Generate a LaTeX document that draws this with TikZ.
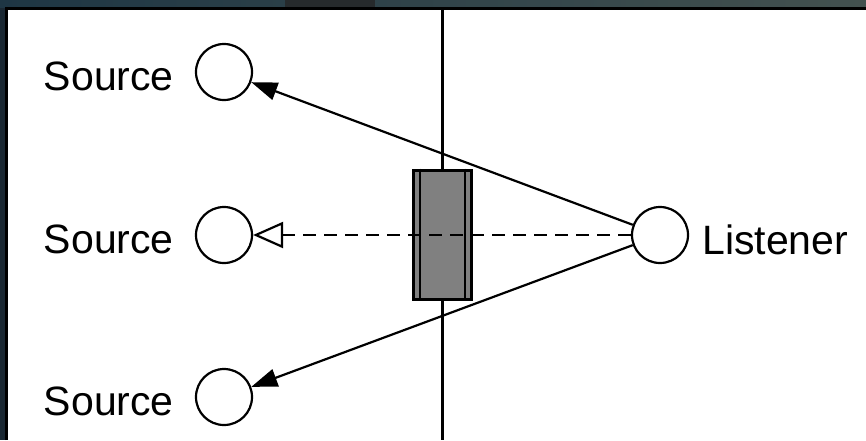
\documentclass[tikz,border=0pt]{standalone}
\usepackage{fontspec}
\setmainfont{Liberation Sans}
\usetikzlibrary{arrows.meta}
\definecolor{bgdark}{HTML}{1A2833}
\definecolor{bandL}{HTML}{1E3644}
\definecolor{bandR}{HTML}{43514F}
\definecolor{bandmid}{HTML}{262A2C}
\definecolor{boxgray}{HTML}{808080}
\tikzset{
  spot/.style={circle, draw, line width=2.2pt, minimum size=56pt, inner sep=0pt, fill=white},
  lbl/.style={inner sep=0pt, font=\fontsize{41}{41}\selectfont},
  solidarrow/.style={line width=2.2pt, -{Triangle[length=26pt,width=18pt]}},
  openarrow/.style={line width=2.2pt, dash pattern=on 13pt off 8pt, -{Triangle[open,length=30pt,width=26pt,fill=white]}},
  wall/.style={line width=3pt},
  screen/.style={rectangle, draw, line width=3pt, fill=boxgray, minimum width=58pt, minimum height=129pt, inner sep=0pt}
}
\begin{document}
\begin{tikzpicture}[x=1pt,y=-1pt]
\useasboundingbox (0,0) rectangle (866,440);
% background frame
\fill[bgdark] (0,0) rectangle (866,440);
\shade[left color=bandL, right color=bandR] (0,0) rectangle (866,7);
\fill[bandmid] (285,0) rectangle (375,7);
\fill[white] (8,10) rectangle (866,440);
\draw[line width=3pt] (6.5,440) -- (6.5,8.5) -- (866,8.5);
% wall
\coordinate (wt) at (442,10);
\coordinate (wb) at (442,440);
\draw[wall] (wt) -- (wb);
% screen
\node[screen] (b) at (442,234.5) {};
\draw[line width=2pt] ([xshift=8pt]b.north west) -- ([xshift=8pt]b.south west);
\draw[line width=2pt] ([xshift=-8pt]b.north east) -- ([xshift=-8pt]b.south east);
% circles
\node[spot] (s1) at (224,72) {};
\node[spot] (s2) at (224,235) {};
\node[spot] (s3) at (224,397) {};
\node[spot] (L) at (660,235) {};
% labels
\node[lbl, anchor=base east] (t1) at (174,90) {Source};
\node[lbl, anchor=base east] (t2) at (174,253) {Source};
\node[lbl, anchor=base east] (t3) at (174,415) {Source};
\node[lbl, anchor=base west] (tl) at (702,254) {Listener};
% connectors
\draw[solidarrow] (L) -- (s1);
\draw[solidarrow] (L) -- (s3);
\draw[openarrow] (L) -- (s2);
\end{tikzpicture}
\end{document}
